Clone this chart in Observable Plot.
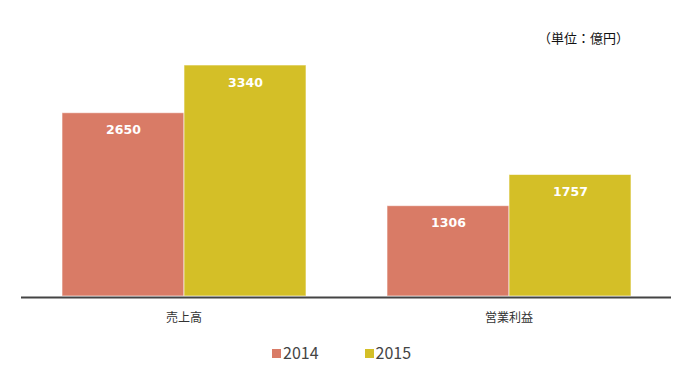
<!DOCTYPE html>
<html>
<head>
<meta charset="utf-8">
<script src="https://cdn.jsdelivr.net/npm/d3@7"></script>
<script src="https://cdn.jsdelivr.net/npm/@observablehq/plot@0.6"></script>
<style>
  html, body { margin: 0; padding: 0; background: #fff; }
  #wrap { position: relative; width: 690px; height: 373px; font-family: "Noto Sans CJK JP", "Noto Sans", sans-serif; }
  #unit { position: absolute; top: 28px; right: 61px; font-size: 13px; color: #111; white-space: nowrap; }
  #legend { position: absolute; top: 340px; left: 272px; display: flex; align-items: center; font-size: 16px; color: #444; }
  #legend .item { display: flex; align-items: center; margin-right: 46px; }
  #legend .sw { width: 9px; height: 9px; margin-right: 2px; margin-top: 2px; }
</style>
</head>
<body>
<div id="wrap">
  <div id="chart"></div>
  <div id="unit"></div>
  <div id="legend"></div>
</div>
<script>
const categories = ["売上高", "営業利益"];
const years = ["2014", "2015"];
const values2014 = [2650, 1306];
const values2015 = [3340, 1757];
const colors = ["#D97B66", "#D4BF27"];
const unitLabel = "（単位：億円）";

const data = [];
categories.forEach((c, i) => {
  data.push({category: c, year: years[0], value: values2014[i]});
  data.push({category: c, year: years[1], value: values2015[i]});
});

const chart = Plot.plot({
  width: 690,
  height: 330,
  marginTop: 65,
  marginBottom: 34,
  marginLeft: 21,
  marginRight: 19,
  style: {fontFamily: "'Noto Sans CJK JP', sans-serif", fontSize: "12px", color: "#333", background: "#fff"},
  fx: {domain: categories, padding: 0, label: null, tickSize: 0, tickPadding: 17},
  x: {domain: years, paddingInner: 0, paddingOuter: 0.328, axis: null},
  y: {domain: [0, 3340], axis: null},
  color: {domain: years, range: colors},
  marks: [
    Plot.barY(data, {fx: "category", x: "year", y: "value", fill: "year", stroke: "#fff", strokeOpacity: 0.6, strokeWidth: 1}),
    Plot.text(data, {fx: "category", x: "year", y: "value", text: d => String(d.value), dy: 17, fill: "#fff",
      fontWeight: "bold", fontSize: 12.5, fontFamily: "'DejaVu Sans', sans-serif"}),
    Plot.ruleY([0], {stroke: "#444", strokeWidth: 2, dy: 1})
  ]
});
document.getElementById("chart").appendChild(chart);

document.getElementById("unit").textContent = unitLabel;

const legend = document.getElementById("legend");
years.forEach((y, i) => {
  const item = document.createElement("div");
  item.className = "item";
  const sw = document.createElement("div");
  sw.className = "sw";
  sw.style.background = colors[i];
  const t = document.createElement("span");
  t.textContent = y;
  item.appendChild(sw);
  item.appendChild(t);
  legend.appendChild(item);
});
</script>
</body>
</html>
